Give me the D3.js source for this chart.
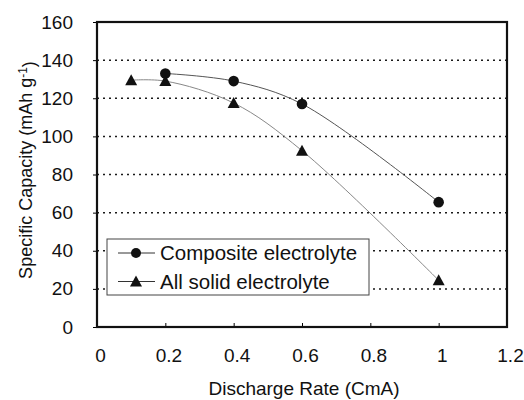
<!DOCTYPE html>
<html>
<head>
<meta charset="utf-8">
<script src="https://cdn.jsdelivr.net/npm/d3@7"></script>
<style>
  body { margin: 0; background: #fff; }
  text { font-family: Arial, "Liberation Sans", sans-serif; fill: #111; }
</style>
</head>
<body>
<svg id="chart"></svg>
<script>
// Data
const seriesNames = ["Composite electrolyte", "All solid electrolyte"];
const compositeRate = [0.2, 0.4, 0.6, 1.0];
const compositeCapacity = [133, 129, 117, 65.5];
const solidRate = [0.1, 0.2, 0.4, 0.6, 1.0];
const solidCapacity = [129.5, 129, 117.5, 92.5, 24.5];
const xTicks = [0, 0.2, 0.4, 0.6, 0.8, 1, 1.2];
const yTicks = [0, 20, 40, 60, 80, 100, 120, 140, 160];

const W = 524, H = 400;
const margin = { top: 22, right: 17, bottom: 73, left: 97 };
const width = W - margin.left - margin.right;
const height = H - margin.top - margin.bottom;

const svg = d3.select("#chart")
  .attr("width", W)
  .attr("height", H);

const g = svg.append("g")
  .attr("transform", "translate(" + margin.left + "," + margin.top + ")");

const x = d3.scaleLinear().domain([0, 1.2]).range([0, width]);
const y = d3.scaleLinear().domain([0, 160]).range([height, 0]);

// Dotted gridlines
g.selectAll(".grid")
  .data(yTicks.filter(d => d > 0 && d < 160))
  .enter()
  .append("line")
  .attr("x1", 0)
  .attr("x2", width)
  .attr("y1", d => y(d))
  .attr("y2", d => y(d))
  .attr("stroke", "#1a1a1a")
  .attr("stroke-width", 1.5)
  .attr("stroke-dasharray", "2,4");

// Y axis
const yAxis = g.append("g")
  .call(d3.axisLeft(y).tickValues(yTicks).tickSize(4).tickPadding(20).tickFormat(d3.format("d")));
yAxis.select(".domain").remove();
yAxis.selectAll("text").style("font-size", "19px");

// X axis (ticks inside, labels below)
const xAxis = g.append("g")
  .attr("transform", "translate(0," + height + ")")
  .call(d3.axisBottom(x).tickValues(xTicks).tickSize(-4).tickPadding(22).tickFormat(d => d3.format("")(d)));
xAxis.select(".domain").remove();
xAxis.selectAll("text").style("font-size", "19px").attr("dx", 3);

// Plot frame
g.append("rect")
  .attr("width", width)
  .attr("height", height)
  .attr("fill", "none")
  .attr("stroke", "#111")
  .attr("stroke-width", 2.2);

// Smoothed lines
const line = d3.line()
  .x(d => x(d[0]))
  .y(d => y(d[1]))
  .curve(d3.curveCatmullRom.alpha(0.5));

const composite = compositeRate.map((r, i) => [r, compositeCapacity[i]]);
const solid = solidRate.map((r, i) => [r, solidCapacity[i]]);

g.append("path")
  .datum(composite)
  .attr("fill", "none")
  .attr("stroke", "#555")
  .attr("stroke-width", 1)
  .attr("d", line);

g.append("path")
  .datum(solid)
  .attr("fill", "none")
  .attr("stroke", "#888")
  .attr("stroke-width", 1)
  .attr("d", line);

// Triangle marker, 12 wide and 11 tall
const triType = {
  draw(ctx) {
    ctx.moveTo(0, -6);
    ctx.lineTo(6, 5);
    ctx.lineTo(-6, 5);
    ctx.closePath();
  }
};
const tri = d3.symbol().type(triType);

g.selectAll(".dot")
  .data(composite)
  .enter()
  .append("circle")
  .attr("cx", d => x(d[0]))
  .attr("cy", d => y(d[1]))
  .attr("r", 5.3)
  .attr("fill", "#111");

g.selectAll(".tri")
  .data(solid)
  .enter()
  .append("path")
  .attr("d", tri)
  .attr("transform", d => "translate(" + x(d[0]) + "," + y(d[1]) + ")")
  .attr("fill", "#111");

// Legend
const legend = g.append("g").attr("transform", "translate(10,217)");
legend.append("rect")
  .attr("width", 262)
  .attr("height", 56)
  .attr("fill", "#fff")
  .attr("stroke", "#444")
  .attr("stroke-width", 1);

seriesNames.forEach((name, i) => {
  const ly = 14 + i * 28.5;
  legend.append("line")
    .attr("x1", 11).attr("x2", 48)
    .attr("y1", ly).attr("y2", ly)
    .attr("stroke", "#333").attr("stroke-width", 1);
  if (i === 0) {
    legend.append("circle").attr("cx", 29).attr("cy", ly).attr("r", 5).attr("fill", "#111");
  } else {
    legend.append("path").attr("d", tri).attr("transform", "translate(29," + ly + ")").attr("fill", "#111");
  }
  legend.append("text")
    .attr("x", 53)
    .attr("y", ly)
    .attr("dy", "0.36em")
    .style("font-size", "20.5px")
    .text(name);
});

// Axis titles
svg.append("text")
  .attr("x", margin.left + width / 2 + 2)
  .attr("y", 395)
  .attr("text-anchor", "middle")
  .style("font-size", "19px")
  .text("Discharge Rate (CmA)");

const yt = svg.append("text")
  .attr("transform", "translate(32,170) rotate(-90)")
  .attr("text-anchor", "middle")
  .style("font-size", "18px");
yt.append("tspan").text("Specific Capacity (mAh g");
yt.append("tspan").attr("dy", "-0.45em").style("font-size", "12px").text("-1");
yt.append("tspan").attr("dy", "0.45em").text(")");
</script>
</body>
</html>
